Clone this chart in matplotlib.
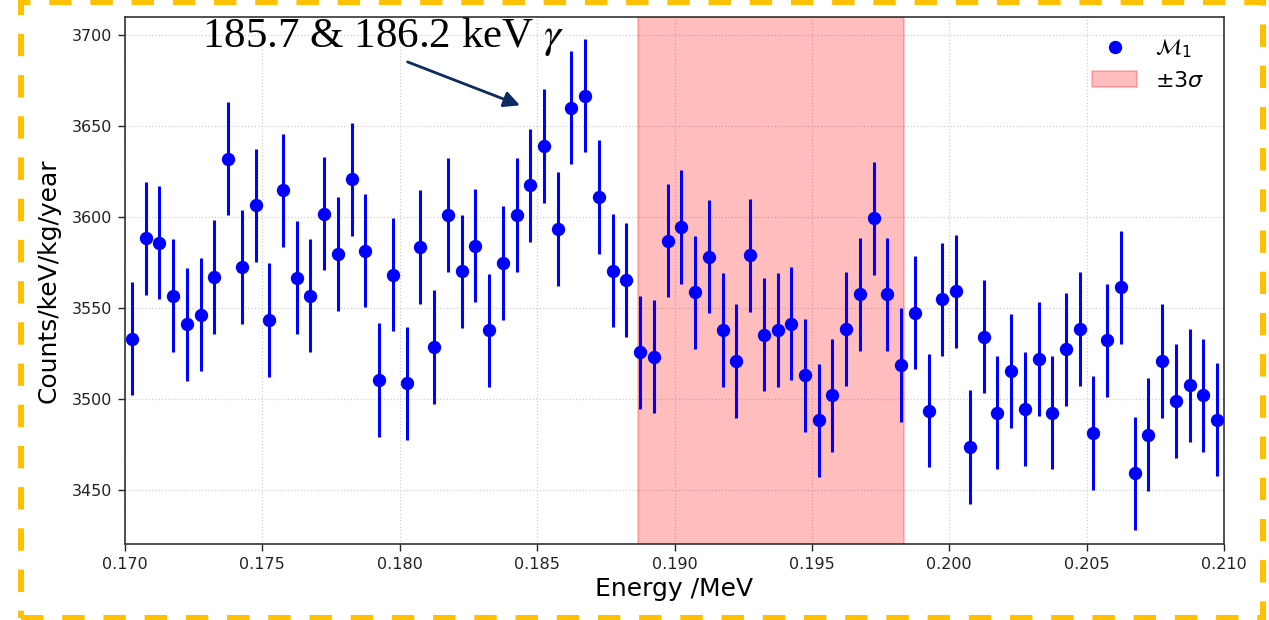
import numpy as np
import matplotlib.pyplot as plt
from matplotlib.patches import Rectangle

# 0.5 keV bins between 0.170 and 0.210 MeV
bin_width = 0.0005
energy = np.arange(0.170 + bin_width / 2, 0.210, bin_width)

# M1 spectrum, counts/keV/kg/year
counts = [
    3533.1, 3588.4, 3586.0, 3556.8, 3541.0, 3546.3, 3567.1, 3632.2, 3572.6, 3606.6,
    3543.4, 3614.7, 3566.7, 3556.8, 3602.0, 3579.8, 3620.8, 3581.6, 3510.5, 3568.4,
    3508.5, 3583.6, 3528.5, 3601.3, 3570.2, 3584.4, 3537.7, 3574.8, 3601.3, 3617.6,
    3639.2, 3593.4, 3660.3, 3666.9, 3611.2, 3570.6, 3565.4, 3525.7, 3523.3, 3587.1,
    3594.5, 3558.6, 3578.3, 3538.0, 3520.8, 3579.0, 3535.3, 3538.0, 3541.5, 3513.0,
    3488.2, 3502.0, 3538.4, 3557.5, 3599.4, 3557.5, 3518.7, 3547.5, 3493.6, 3554.8,
    3559.2, 3473.5, 3534.2, 3492.5, 3515.3, 3494.5, 3521.9, 3492.5, 3527.2, 3538.4,
    3481.2, 3532.2, 3561.4, 3459.0, 3480.3, 3520.8, 3498.9, 3507.5, 3502.0, 3488.6,
]
count_err = 31.2

# signal window (mu +/- 3 sigma)
band_lo = 0.18866
band_hi = 0.19835

fig = plt.figure(figsize=(12.69, 6.2), dpi=100)
ax = fig.add_axes([125 / 1269, 1 - 544.3 / 620, 1099 / 1269, 527 / 620])

band = ax.axvspan(band_lo, band_hi, facecolor='red', edgecolor='red', alpha=0.26,
                  lw=1.2, label=r'$\pm3\sigma$', zorder=1)
ax.errorbar(energy, counts, yerr=count_err, fmt='none', ecolor='blue',
            elinewidth=2.2, capsize=0, zorder=3)
pts, = ax.plot(energy, counts, 'o', color='blue', markersize=8.6,
               label=r'$\mathcal{M}_1$', zorder=4)

ax.set_xlim(0.170, 0.210)
ax.set_ylim(3420, 3710)
ax.set_xticks([0.170, 0.175, 0.180, 0.185, 0.190, 0.195, 0.200, 0.205, 0.210])
ax.set_yticks([3450, 3500, 3550, 3600, 3650, 3700])
ax.grid(True, linestyle=':', color='#d0d0d0', linewidth=0.9, zorder=0)
ax.set_axisbelow(True)
ax.tick_params(labelsize=11.5, length=5, width=1, pad=4, colors='#222222')
for sp in ax.spines.values():
    sp.set_color('#333333')
    sp.set_linewidth(1.2)

ax.set_xlabel('Energy /MeV', fontsize=18)
ax.set_ylabel('Counts/keV/kg/year', fontsize=18, labelpad=8)
ax.legend(handles=[pts, band], loc='upper right', frameon=False, fontsize=16)

# line label and arrow
ax.text(0.17280, 3693.8, r'185.7 & 186.2 keV $\gamma$', fontsize=31,
        family='Liberation Serif', math_fontfamily='stix', va='baseline')
ax.annotate('', xy=(0.18447, 3661), xytext=(0.18019, 3686),
            arrowprops=dict(arrowstyle='-|>', color='#0b2a5e', lw=2,
                            mutation_scale=24))

# dashed frame around the whole figure
frame = Rectangle((21 / 1269, 2 / 620), 1242 / 1269, 616 / 620,
                  transform=fig.transFigure, fill=False, edgecolor='#FFC000',
                  lw=4.3, linestyle=(0, (3.75, 3.15)), clip_on=False)
fig.add_artist(frame)

fig.savefig('out.png', dpi=100)
